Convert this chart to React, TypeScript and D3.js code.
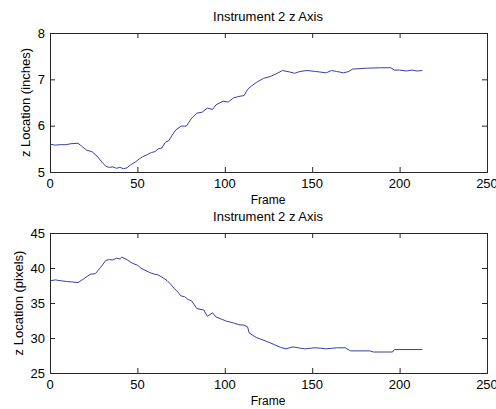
import * as d3 from "d3";

// frame numbers + values
const frameTicks = [0, 50, 100, 150, 200, 250];
const inchTicks = [5, 6, 7, 8];
const pixelTicks = [25, 30, 35, 40, 45];

const inchFrames = [0, 3, 6, 9, 12, 16, 18, 21, 24, 27, 30, 32, 34, 36, 38, 40, 42, 44, 46, 49, 51, 53, 56, 58, 60, 62, 64, 66, 68, 70, 72, 75, 78, 81, 84, 87, 90, 93, 95, 99, 102, 105, 108, 111, 113, 115, 118, 122, 126, 130, 133, 137, 140, 143, 147, 152, 158, 161, 164, 168, 171, 173, 181, 189, 195, 197, 200, 204, 207, 210, 213];
const inchValues = [5.6, 5.58, 5.59, 5.59, 5.61, 5.62, 5.56, 5.47, 5.44, 5.34, 5.2, 5.12, 5.1, 5.11, 5.08, 5.1, 5.07, 5.09, 5.15, 5.22, 5.28, 5.33, 5.38, 5.42, 5.44, 5.5, 5.52, 5.64, 5.68, 5.8, 5.91, 5.99, 5.99, 6.16, 6.27, 6.29, 6.38, 6.35, 6.45, 6.53, 6.51, 6.6, 6.63, 6.65, 6.78, 6.85, 6.93, 7.02, 7.06, 7.13, 7.19, 7.16, 7.13, 7.17, 7.19, 7.17, 7.14, 7.19, 7.17, 7.14, 7.17, 7.22, 7.24, 7.25, 7.25, 7.2, 7.2, 7.18, 7.2, 7.18, 7.19];

const pixelFrames = [0, 3, 7, 10, 13, 16, 19, 23, 26, 29, 32, 34, 36, 38, 40, 41, 44, 47, 50, 52, 55, 57, 60, 62, 64, 67, 69, 71, 73, 75, 77, 79, 81, 84, 88, 90, 93, 95, 98, 101, 105, 108, 111, 113, 114, 118, 122, 127, 132, 135, 139, 142, 146, 151, 155, 158, 164, 169, 172, 183, 185, 196, 197, 213];
const pixelValues = [38.16, 38.3, 38.15, 38.06, 38.0, 37.91, 38.4, 39.1, 39.2, 40.1, 41.1, 41.2, 41.15, 41.4, 41.3, 41.55, 41.2, 40.7, 40.4, 40.0, 39.6, 39.35, 39.1, 39.0, 38.7, 38.2, 37.7, 37.1, 36.6, 36.0, 35.9, 35.5, 35.3, 34.2, 34.0, 33.1, 33.6, 33.0, 32.7, 32.4, 32.15, 31.9, 31.84, 31.6, 30.7, 30.08, 29.7, 29.2, 28.65, 28.45, 28.73, 28.6, 28.45, 28.6, 28.55, 28.45, 28.6, 28.6, 28.16, 28.16, 28.0, 28.0, 28.35, 28.35];

const font = "'Liberation Sans', Arial, sans-serif";
const axisColor = "#262626";
const lineColor = "#3c3ca8";

function Panel({ top, bottom, frames, values, yTicks, yLabel, labelX }: any) {
  const x = d3.scaleLinear([0, 250], [50, 487]);
  const y = d3.scaleLinear([yTicks[0], yTicks[yTicks.length - 1]], [bottom, top]);
  const line = d3.line<number>((d, i) => x(frames[i]), (d) => y(d));
  const mid = (top + bottom) / 2;
  return (
    <g>
      <text x={268} y={top - 12} fontSize={13} textAnchor="middle">Instrument 2 z Axis</text>
      <path d={line(values) ?? ""} fill="none" stroke={lineColor} strokeWidth={1} />
      <rect x={50.5} y={top + 0.5} width={437} height={bottom - top} fill="none" stroke={axisColor} />
      {frameTicks.map((t) => (
        <g key={"x" + t}>
          <line x1={x(t) + 0.5} x2={x(t) + 0.5} y1={bottom} y2={bottom - 5} stroke={axisColor} />
          <line x1={x(t) + 0.5} x2={x(t) + 0.5} y1={top} y2={top + 5} stroke={axisColor} />
          <text x={x(t)} y={bottom + 16} fontSize={13} textAnchor="middle">{t}</text>
        </g>
      ))}
      {yTicks.map((t: number) => (
        <g key={"y" + t}>
          <line x1={50} x2={55} y1={y(t) + 0.5} y2={y(t) + 0.5} stroke={axisColor} />
          <line x1={482} x2={487} y1={y(t) + 0.5} y2={y(t) + 0.5} stroke={axisColor} />
          <text x={45} y={y(t) + 4.5} fontSize={13} textAnchor="end">{t}</text>
        </g>
      ))}
      <text x={268} y={bottom + 32} fontSize={12} textAnchor="middle">Frame</text>
      <text transform={`translate(${labelX},${mid}) rotate(-90)`} fontSize={13} textAnchor="middle">{yLabel}</text>
    </g>
  );
}

export default function App() {
  return (
    <div style={{ position: "absolute", left: 0, top: 0 }}>
      <svg width={496} height={409} fontFamily={font} style={{ display: "block", background: "#fff" }}>
        <Panel top={33} bottom={172} frames={inchFrames} values={inchValues} yTicks={inchTicks} yLabel="z Location (inches)" labelX={30} />
        <Panel top={233} bottom={373} frames={pixelFrames} values={pixelValues} yTicks={pixelTicks} yLabel="z Location (pixels)" labelX={23} />
      </svg>
    </div>
  );
}
